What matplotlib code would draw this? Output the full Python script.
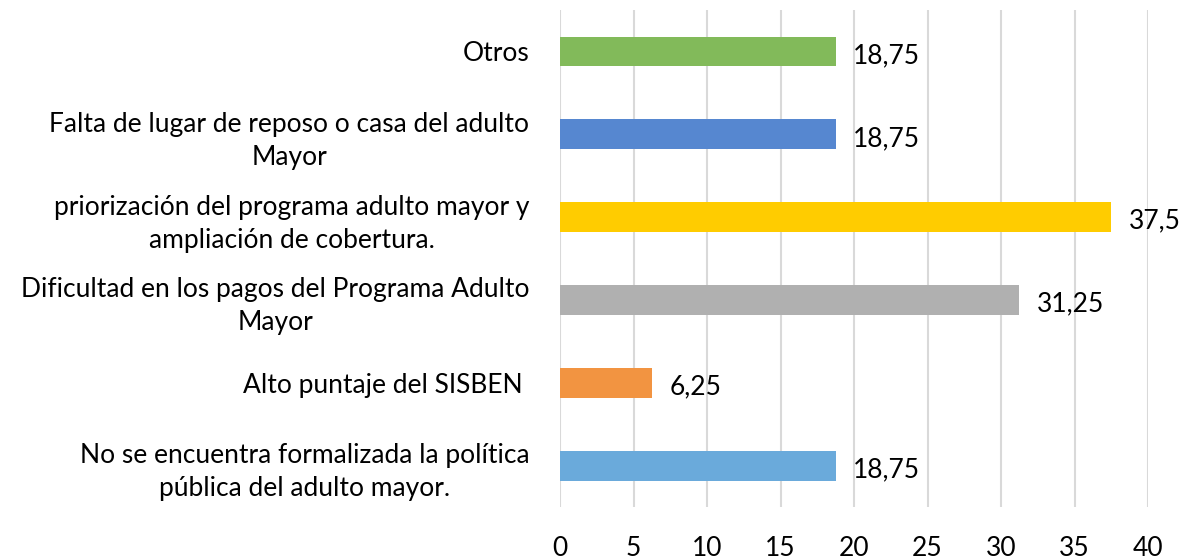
import matplotlib.pyplot as plt
import numpy as np

plt.rcParams['font.family'] = ['Lato', 'DejaVu Sans']

categorias = [
    'No se encuentra formalizada la política\npública del adulto mayor.',
    'Alto puntaje del SISBEN ',
    'Dificultad en los pagos del Programa Adulto\nMayor',
    'priorización del programa adulto mayor y\nampliación de cobertura.',
    'Falta de lugar de reposo o casa del adulto\nMayor',
    'Otros',
]
valores = [18.75, 6.25, 31.25, 37.5, 18.75, 18.75]
etiquetas = ['18,75', '6,25', '31,25', '37,5', '18,75', '18,75']
colores = ['#6AAADB', '#F29441', '#B0B0B0', '#FFCC00', '#5687D0', '#82BA5A']

fig = plt.figure(figsize=(11.85, 5.59), dpi=100)
ax = fig.add_axes([0.4726, 0.093, 0.4962, 0.889])

y = np.arange(len(categorias))
ax.barh(y, valores, height=0.36, color=colores, zorder=3)
for yi, v, t in zip(y, valores, etiquetas):
    ax.text(v + 1.2, yi - 0.05, t, va='center', ha='left', fontsize=19)

ax.set_xlim(0, 40)
ax.set_ylim(-0.5, len(categorias) - 0.5)
ax.set_xticks(np.arange(0, 41, 5))
ax.set_yticks(y)
ax.set_yticklabels(categorias, fontsize=19, multialignment='center', linespacing=1.4)
ax.tick_params(axis='x', labelsize=19, length=0, pad=21)
ax.tick_params(axis='y', length=0, pad=22)
ax.grid(axis='x', color='#D9D9D9', linewidth=1.5, zorder=0)
for s in ax.spines.values():
    s.set_visible(False)

fig.savefig('out.png', dpi=100)
